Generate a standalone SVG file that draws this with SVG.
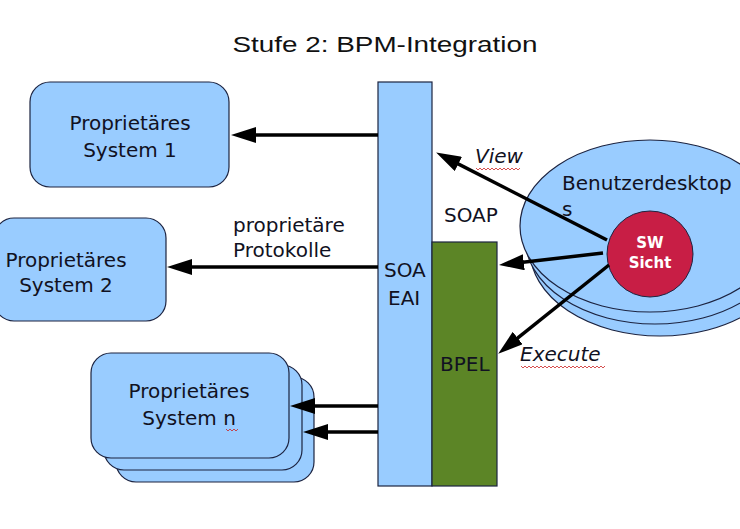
<svg xmlns="http://www.w3.org/2000/svg" width="740" height="529" viewBox="0 0 740 529">
  <style>
    .box { fill: #99ccff; stroke: #1c2340; stroke-width: 1.2; }
    .t { font-family: "DejaVu Sans", "Liberation Sans", sans-serif; font-size: 20px; fill: #111122; }
    .c { text-anchor: middle; }
    .it { font-style: italic; }
    .conn { stroke: #000; stroke-width: 3.5; fill: none; marker-end: url(#ah); }
    .wave { stroke: #cc2222; stroke-width: 0.8; fill: none; }
  </style>
  <defs>
    <marker id="ah" markerUnits="userSpaceOnUse" markerWidth="26" markerHeight="16" refX="14" refY="8" orient="auto">
      <path d="M0,0 L25,8 L0,16 z" fill="#000"/>
    </marker>
  </defs>
  <rect width="740" height="529" fill="#fff"/>

  <text id="title" x="385" y="52" font-family="Liberation Sans, Arial, sans-serif" font-size="22" text-anchor="middle" textLength="305" lengthAdjust="spacingAndGlyphs" fill="#111">Stufe 2: BPM-Integration</text>

  <g id="sys1">
    <rect class="box" x="30" y="82" width="199" height="105" rx="20"/>
    <text class="t c" x="130" y="130">Proprietäres</text>
    <text class="t c" x="130" y="157">System 1</text>
  </g>

  <g id="sys2">
    <rect class="box" x="-6" y="218" width="172" height="103" rx="20"/>
    <text class="t c" x="66" y="267">Proprietäres</text>
    <text class="t c" x="66" y="292">System 2</text>
  </g>

  <g id="sysn">
    <rect class="box" x="116" y="377" width="198" height="105" rx="20"/>
    <rect class="box" x="104" y="365" width="198" height="105" rx="20"/>
    <rect class="box" x="91" y="353" width="198" height="105" rx="20"/>
    <text class="t c" x="189" y="398">Proprietäres</text>
    <text class="t c" x="189" y="425">System n</text>
    <path class="wave" d="M226,429 l2,2 l2,-2 l2,2 l2,-2 l2,2 l2,-2"/>
  </g>

  <g id="soa">
    <rect class="box" x="378" y="82" width="54" height="404"/>
    <text class="t" x="384" y="277">SOA</text>
    <text class="t" x="388" y="305">EAI</text>
  </g>

  <g id="bpel">
    <rect x="432" y="242" width="65" height="244" fill="#5c8526" stroke="#1c2340" stroke-width="1.2"/>
    <text class="t" x="440" y="371" fill="#0c1a0c">BPEL</text>
  </g>

  <g id="desktops">
    <ellipse class="box" cx="660" cy="250" rx="130" ry="86"/>
    <ellipse class="box" cx="655" cy="238" rx="130" ry="86"/>
    <ellipse class="box" cx="650" cy="226" rx="130" ry="86"/>
    <text class="t" x="562" y="190">Benutzerdesktop</text>
    <text class="t" x="562" y="216">s</text>
  </g>

  <g id="swsicht">
    <circle cx="650" cy="254" r="43" fill="#c81e45" stroke="#1c2340" stroke-width="1"/>
    <text x="650" y="248" font-family="DejaVu Sans, sans-serif" font-weight="bold" font-size="15" fill="#fff" text-anchor="middle">SW</text>
    <text x="650" y="268" font-family="DejaVu Sans, sans-serif" font-weight="bold" font-size="15" fill="#fff" text-anchor="middle">Sicht</text>
  </g>

  <g id="labels">
    <text class="t" x="233" y="232">proprietäre</text>
    <text class="t" x="233" y="257">Protokolle</text>
    <text class="t" x="444" y="222">SOAP</text>
    <text class="t it" x="475" y="163">View</text>
    <path class="wave" d="M476,168 l2,2 l2,-2 l2,2 l2,-2 l2,2 l2,-2 l2,2 l2,-2 l2,2 l2,-2 l2,2 l2,-2 l2,2 l2,-2 l2,2 l2,-2 l2,2 l2,-2 l2,2 l2,-2 l2,2 l2,-2"/>
    <text class="t it" x="520" y="361">Execute</text>
    <path class="wave" d="M521,366 l2,2 l2,-2 l2,2 l2,-2 l2,2 l2,-2 l2,2 l2,-2 l2,2 l2,-2 l2,2 l2,-2 l2,2 l2,-2 l2,2 l2,-2 l2,2 l2,-2 l2,2 l2,-2 l2,2 l2,-2 l2,2 l2,-2 l2,2 l2,-2 l2,2 l2,-2 l2,2 l2,-2 l2,2 l2,-2 l2,2 l2,-2 l2,2 l2,-2 l2,2 l2,-2 l2,2 l2,-2 l2,2 l2,-2"/>
  </g>

  <g id="connectors">
    <line class="conn" x1="378" y1="135" x2="242" y2="135"/>
    <line class="conn" x1="378" y1="267" x2="178" y2="267"/>
    <line class="conn" x1="378" y1="406" x2="301" y2="406"/>
    <line class="conn" x1="378" y1="432" x2="314" y2="432"/>
    <line class="conn" x1="607" y1="240" x2="445.9" y2="157.6"/>
    <line class="conn" x1="603" y1="253" x2="509.9" y2="263.8"/>
    <line class="conn" x1="609" y1="265" x2="506.8" y2="346.8"/>
  </g>
</svg>
